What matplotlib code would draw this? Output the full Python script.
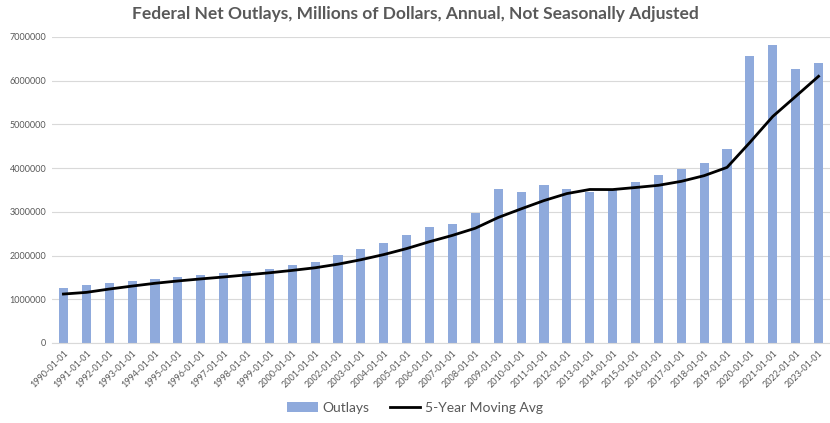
import numpy as np
import matplotlib
matplotlib.use("Agg")
import matplotlib.pyplot as plt

# data (millions of dollars)
years = list(range(1990, 2024))
labels = [f"{y}-01-01" for y in years]
outlays = [1253000, 1324000, 1382000, 1409000, 1462000, 1516000, 1560000, 1601000,
           1652000, 1702000, 1789000, 1863000, 2011000, 2160000, 2293000, 2472000,
           2655000, 2729000, 2983000, 3518000, 3457000, 3603000, 3527000, 3455000,
           3506000, 3692000, 3853000, 3982000, 4109000, 4447000, 6554000, 6822000,
           6273000, 6410000]
moving_avg = [1120000, 1158000, 1234000, 1302000, 1366000, 1419000, 1466000, 1510000,
              1558000, 1606000, 1661000, 1721000, 1803000, 1905000, 2023000, 2160000,
              2318000, 2462000, 2626000, 2871000, 3068000, 3258000, 3418000, 3512000,
              3510000, 3557000, 3607000, 3698000, 3828000, 4017000, 4589000, 5183000,
              5641000, 6101000]
yticks = [0, 1000000, 2000000, 3000000, 4000000, 5000000, 6000000, 7000000]

plt.rcParams['font.family'] = ['Lato', 'DejaVu Sans']
grey = "#595959"

fig = plt.figure(figsize=(8.3, 4.23), dpi=100)
ax = fig.add_axes([52 / 830, 1 - 343 / 423, 778 / 830, 306 / 423])

x = np.arange(len(years))
bars = ax.bar(x, outlays, width=0.4, color="#8FAADC", label="Outlays", zorder=2)
line, = ax.plot(x, moving_avg, color="black", lw=2, label="5-Year Moving Avg", zorder=3)

ax.set_xlim(-0.5, len(years) - 0.5)
ax.set_ylim(0, 7000000)
ax.set_yticks(yticks)
ax.set_yticklabels([str(v) for v in yticks], fontsize=6.5, color=grey)
ax.set_xticks(x)
ax.set_xticklabels(labels, rotation=45, ha="right", rotation_mode="anchor",
                   fontsize=6.5, color=grey)
ax.tick_params(axis="both", length=0, pad=4)
ax.grid(axis="y", color="#D9D9D9", lw=0.8, zorder=0)
for s in ["top", "right", "left"]:
    ax.spines[s].set_visible(False)
ax.spines["bottom"].set_color("#D9D9D9")

fig.text(0.5, 1 - 14 / 423, "Federal Net Outlays, Millions of Dollars, Annual, Not Seasonally Adjusted",
         ha="center", va="center", fontsize=12.5, fontweight="bold", color=grey)

fig.legend([bars, line], ["Outlays", "5-Year Moving Avg"],
           loc="center", bbox_to_anchor=(0.5, 1 - 408 / 423), ncol=2, frameon=False,
           fontsize=10, labelcolor=grey, handlelength=2.2, handletextpad=0.3,
           columnspacing=1.5)

fig.savefig("out.png", dpi=100)
